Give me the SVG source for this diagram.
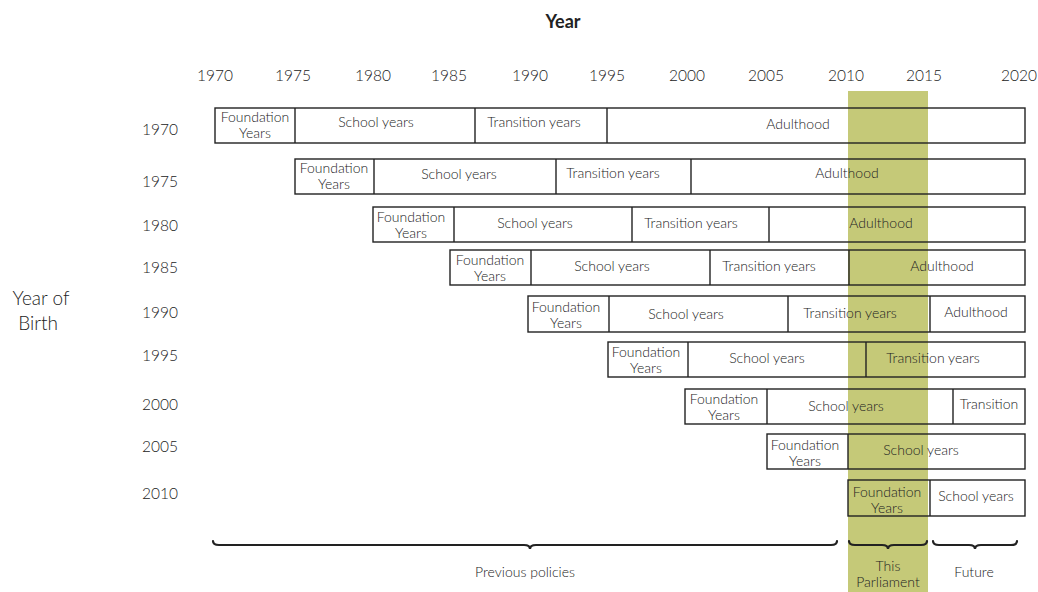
<svg xmlns="http://www.w3.org/2000/svg" width="1038" height="592" viewBox="0 0 1038 592">
<style>
text{font-family:Lato,"Open Sans","Liberation Sans",sans-serif;font-size:14px;font-weight:300;fill:#222;text-anchor:middle}
.yr{font-size:15.5px}
.big{font-size:19px}
.title{font-size:18px;font-weight:bold}
.box{fill:none;stroke:#222;stroke-width:1.4}
.div{stroke:#222;stroke-width:1.4}
.brace{fill:none;stroke:#222;stroke-width:2.2;stroke-linecap:round}
</style>
<rect id="band" x="848" y="91" width="80" height="501" fill="#c5c978"/>
<g id="axis">
<text class="title" x="563" y="28">Year</text>
<text class="yr" x="215" y="81">1970</text>
<text class="yr" x="293" y="81">1975</text>
<text class="yr" x="373" y="81">1980</text>
<text class="yr" x="449" y="81">1985</text>
<text class="yr" x="530" y="81">1990</text>
<text class="yr" x="607" y="81">1995</text>
<text class="yr" x="687" y="81">2000</text>
<text class="yr" x="766" y="81">2005</text>
<text class="yr" x="846" y="81">2010</text>
<text class="yr" x="924" y="81">2015</text>
<text class="yr" x="1019" y="81">2020</text>
</g>
<g id="birth-label">
<text class="big" x="41" y="305">Year of</text>
<text class="big" x="38" y="330">Birth</text>
</g>
<g id="row1970">
<text class="yr" x="160" y="135">1970</text>
<rect class="box" x="215" y="108" width="810" height="35"/>
<line class="div" x1="295" y1="108" x2="295" y2="143"/><line class="div" x1="475" y1="108" x2="475" y2="143"/><line class="div" x1="607" y1="108" x2="607" y2="143"/>
<text x="255" y="122">Foundation</text><text x="255" y="138">Years</text>
<text x="376" y="127">School years</text><text x="534" y="127">Transition years</text><text x="798" y="129">Adulthood</text>
</g>
<g id="row1975">
<text class="yr" x="160" y="187">1975</text>
<rect class="box" x="295" y="159" width="730" height="35"/>
<line class="div" x1="374" y1="159" x2="374" y2="194"/><line class="div" x1="556" y1="159" x2="556" y2="194"/><line class="div" x1="691" y1="159" x2="691" y2="194"/>
<text x="334" y="173">Foundation</text><text x="334" y="189">Years</text>
<text x="459" y="179">School years</text><text x="613" y="178">Transition years</text><text x="847" y="178">Adulthood</text>
</g>
<g id="row1980">
<text class="yr" x="160" y="231">1980</text>
<rect class="box" x="373" y="207" width="652" height="35"/>
<line class="div" x1="454" y1="207" x2="454" y2="242"/><line class="div" x1="632" y1="207" x2="632" y2="242"/><line class="div" x1="769" y1="207" x2="769" y2="242"/>
<text x="411" y="222">Foundation</text><text x="411" y="238">Years</text>
<text x="535" y="228">School years</text><text x="691" y="228">Transition years</text><text x="881" y="228">Adulthood</text>
</g>
<g id="row1985">
<text class="yr" x="160" y="273">1985</text>
<rect class="box" x="450" y="250" width="575" height="35"/>
<line class="div" x1="531" y1="250" x2="531" y2="285"/><line class="div" x1="710" y1="250" x2="710" y2="285"/><line class="div" x1="849" y1="250" x2="849" y2="285"/>
<text x="490" y="265">Foundation</text><text x="490" y="281">Years</text>
<text x="612" y="271">School years</text><text x="769" y="271">Transition years</text><text x="942" y="271">Adulthood</text>
</g>
<g id="row1990">
<text class="yr" x="160" y="318">1990</text>
<rect class="box" x="528" y="296" width="497" height="36"/>
<line class="div" x1="609" y1="296" x2="609" y2="332"/><line class="div" x1="788" y1="296" x2="788" y2="332"/><line class="div" x1="930" y1="296" x2="930" y2="332"/>
<text x="566" y="312">Foundation</text><text x="566" y="328">Years</text>
<text x="686" y="319">School years</text><text x="850" y="318">Transition years</text><text x="976" y="317">Adulthood</text>
</g>
<g id="row1995">
<text class="yr" x="160" y="361">1995</text>
<rect class="box" x="608" y="342" width="417" height="35"/>
<line class="div" x1="688" y1="342" x2="688" y2="377"/><line class="div" x1="866" y1="342" x2="866" y2="377"/>
<text x="646" y="357">Foundation</text><text x="646" y="373">Years</text>
<text x="767" y="363">School years</text><text x="933" y="363">Transition years</text>
</g>
<g id="row2000">
<text class="yr" x="160" y="410">2000</text>
<rect class="box" x="685" y="389" width="340" height="35"/>
<line class="div" x1="767" y1="389" x2="767" y2="424"/><line class="div" x1="953" y1="389" x2="953" y2="424"/>
<text x="724" y="404">Foundation</text><text x="724" y="420">Years</text>
<text x="846" y="411">School years</text><text x="989" y="409">Transition</text>
</g>
<g id="row2005">
<text class="yr" x="160" y="452">2005</text>
<rect class="box" x="767" y="434" width="258" height="35"/>
<line class="div" x1="848" y1="434" x2="848" y2="469"/>
<text x="805" y="450">Foundation</text><text x="805" y="466">Years</text>
<text x="921" y="455">School years</text>
</g>
<g id="row2010">
<text class="yr" x="160" y="499">2010</text>
<rect class="box" x="848" y="480" width="177" height="36"/>
<line class="div" x1="930" y1="480" x2="930" y2="516"/>
<text x="887" y="497">Foundation</text><text x="887" y="513">Years</text>
<text x="976" y="501">School years</text>
</g>
<g id="connectors">
<path class="brace" d="M213,541 Q213,545 219,545 L524,545 Q530,545 530,549 Q530,545 536,545 L831,545 Q837,545 837,541"/>
<path class="brace" d="M849,541 Q849,545 855,545 L882,545 Q888,545 888,549 Q888,545 894,545 L921,545 Q927,545 927,541"/>
<path class="brace" d="M933,541 Q933,545 939,545 L969,545 Q975,545 975,549 Q975,545 981,545 L1011,545 Q1017,545 1017,541"/>
</g>
<g id="brace-labels">
<text x="525" y="577">Previous policies</text>
<text x="888" y="571">This</text><text x="888" y="587">Parliament</text>
<text x="974" y="577">Future</text>
</g>
</svg>
